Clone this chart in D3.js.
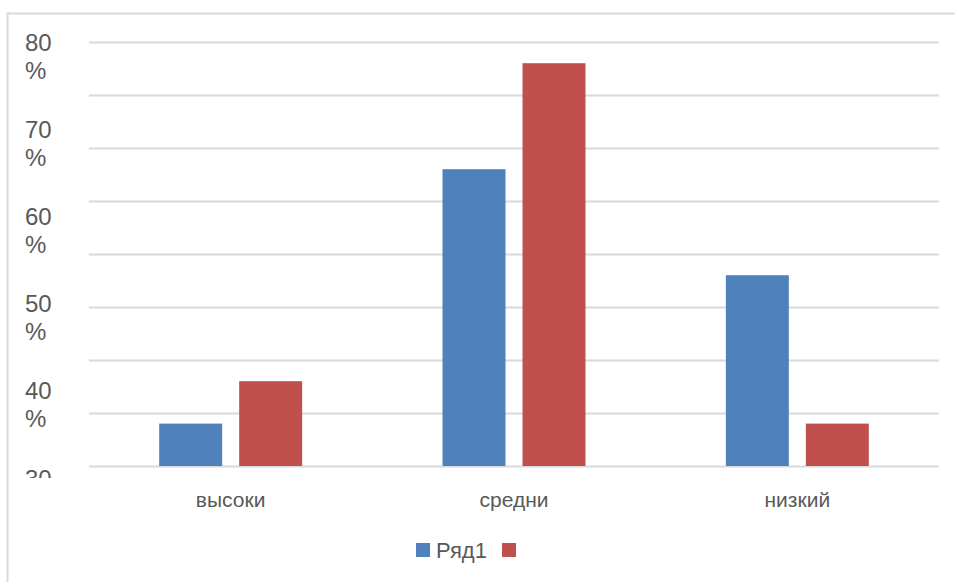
<!DOCTYPE html>
<html><head><meta charset="utf-8">
<script src="https://cdn.jsdelivr.net/npm/d3@7"></script>
<style>body{margin:0;background:#fff}svg{display:block}</style>
</head><body>
<script>
const categories = ["высоки", "средни", "низкий"];
const seriesNames = ["Ряд1", ""];
const series1 = [8, 56, 36];
const series2 = [16, 76, 8];
const yTickLabels = ["80", "70", "60", "50", "40", "30"];
const colors = ["#4F81BD", "#C0504D"];

const W = 955, H = 582;
const svg = d3.select("body").append("svg").attr("width", W).attr("height", H)
  .style("font-family", "'Liberation Sans', Arial, sans-serif");

// chart border
svg.append("path").attr("d", `M7.5,${H+5}V13.5H${W+5}`).attr("fill", "none")
  .attr("stroke", "#d9d9d9").attr("stroke-width", 2);

const pLeft = 89, pRight = 939, pTop = 42, pBottom = 466;
const y = d3.scaleLinear().domain([0, 80]).range([pBottom, pTop]);
const x0 = d3.scaleBand().domain(categories).range([pLeft, pRight]).padding(0);
const bw = x0.bandwidth();
const x1 = d3.scaleBand().domain([0, 1]).range([bw * 0.2477, bw * 0.7523]).paddingInner(0.2125);

// gridlines
svg.append("g").selectAll("line").data(y.ticks(8)).join("line")
  .attr("x1", pLeft).attr("x2", pRight)
  .attr("y1", d => Math.round(y(d)) + 0.5).attr("y2", d => Math.round(y(d)) + 0.5)
  .attr("stroke", "#d9d9d9").attr("stroke-width", 2);

// bars
const data = categories.map((c, i) => ({c, vals: [series1[i], series2[i]]}));
const g = svg.append("g").selectAll("g").data(data).join("g")
  .attr("transform", d => `translate(${x0(d.c)},0)`);
g.selectAll("rect").data(d => d.vals.map((v, k) => ({v, k}))).join("rect")
  .attr("x", d => x1(d.k)).attr("width", x1.bandwidth())
  .attr("y", d => y(d.v)).attr("height", d => y(0) - y(d.v))
  .attr("fill", d => colors[d.k]);

// y labels (wrapped, as in reference)
svg.append("clipPath").attr("id", "yclip").append("rect")
  .attr("x", 0).attr("y", 0).attr("width", 88).attr("height", 478);
const ly = d3.scalePoint().domain(yTickLabels).range([42, 478]);
const yl = svg.append("g").attr("clip-path", "url(#yclip)")
  .attr("fill", "#595959").style("font-size", "24px");
yTickLabels.forEach(t => {
  const tx = yl.append("text").attr("x", 25).attr("y", ly(t)).attr("dy", "0.36em");
  tx.append("tspan").attr("x", 25).text(t);
  tx.append("tspan").attr("x", 25).attr("dy", 28).text("%");
});

// category labels
svg.append("g").selectAll("text").data(categories).join("text")
  .attr("x", d => x0(d) + bw / 2).attr("y", 499).attr("dy", "0.36em")
  .attr("text-anchor", "middle").attr("fill", "#595959").style("font-size", "21px")
  .text(d => d);

// legend
const leg = svg.append("g").attr("transform", "translate(416,543)");
leg.append("rect").attr("width", 14).attr("height", 14).attr("fill", colors[0]);
leg.append("text").attr("x", 20).attr("y", 7).attr("dy", "0.36em")
  .attr("fill", "#595959").style("font-size", "22px").text(seriesNames[0]);
leg.append("rect").attr("x", 86).attr("width", 14).attr("height", 14).attr("fill", colors[1]);
</script>
</body></html>
